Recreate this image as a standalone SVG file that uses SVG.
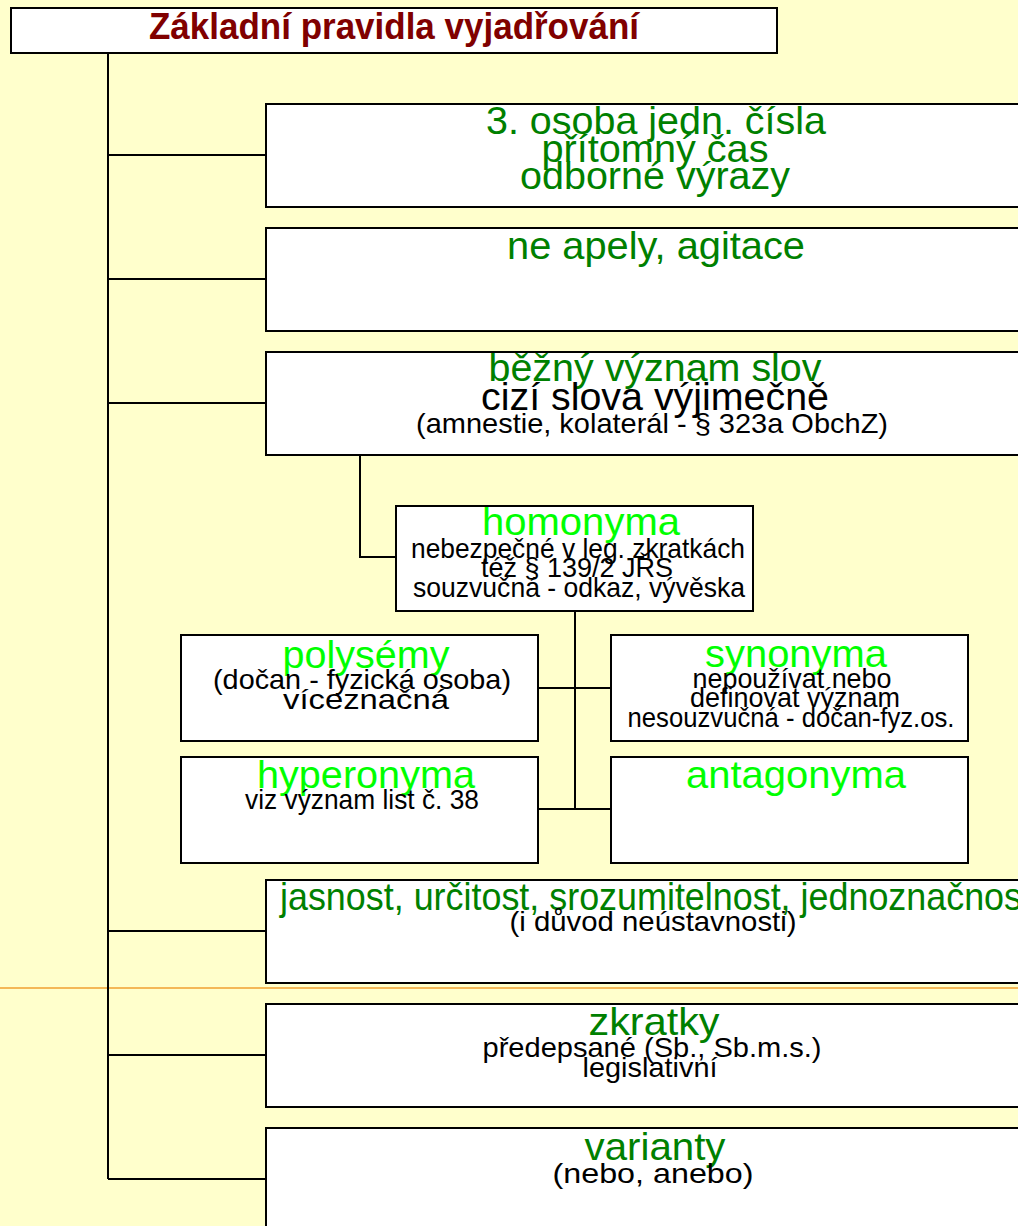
<svg xmlns="http://www.w3.org/2000/svg" width="1018" height="1226" viewBox="0 0 1018 1226">
<style>
.box{fill:#fff;stroke:#000;stroke-width:2}
.ln{stroke:#000;stroke-width:2;fill:none}
text{font-family:"Liberation Sans",Arial,sans-serif;text-anchor:middle}
.h{fill:#008000;font-size:39px}
.l{fill:#00ff00;font-size:39px}
.b{fill:#000;font-size:28px}
.bb{fill:#000;font-size:38px}
.t{fill:#800000;font-size:37px;font-weight:bold}
</style>
<rect width="1018" height="1226" fill="#ffffcc"/>
<line x1="0" y1="988" x2="1018" y2="988" stroke="#f0a030" stroke-width="1.5"/>
<g id="connectors">
<path class="ln" d="M108 53V1179M108 155H266M108 279H266M108 403H266M108 931H266M108 1055H266M108 1179H266"/>
<path class="ln" d="M360 455V557H396"/>
<path class="ln" d="M575 611V809M538 688H611M538 809H611"/>
</g>
<g id="title">
<rect class="box" x="11" y="8" width="766" height="45"/>
<text class="t" x="394" y="39" textLength="490" lengthAdjust="spacingAndGlyphs">Základní pravidla vyjadřování</text>
</g>
<g id="n1">
<rect class="box" x="266" y="104" width="780" height="103"/>
<text class="h" x="656" y="134" textLength="340" lengthAdjust="spacingAndGlyphs">3. osoba jedn. čísla</text>
<text class="h" x="655" y="162" textLength="227" lengthAdjust="spacingAndGlyphs">přítomný čas</text>
<text class="h" x="655" y="189" textLength="270" lengthAdjust="spacingAndGlyphs">odborné výrazy</text>
</g>
<g id="n2">
<rect class="box" x="266" y="228" width="780" height="103"/>
<text class="h" x="656" y="259" textLength="298" lengthAdjust="spacingAndGlyphs">ne apely, agitace</text>
</g>
<g id="n3">
<rect class="box" x="266" y="352" width="780" height="103"/>
<text class="h" x="655" y="381" textLength="333" lengthAdjust="spacingAndGlyphs">běžný význam slov</text>
<text class="bb" x="655" y="410" textLength="348" lengthAdjust="spacingAndGlyphs">cizí slova výjimečně</text>
<text class="b" x="652" y="433" textLength="472" lengthAdjust="spacingAndGlyphs">(amnestie, kolaterál - § 323a ObchZ)</text>
</g>
<g id="homonyma">
<rect class="box" x="396" y="506" width="357" height="105"/>
<text class="l" x="581" y="535" textLength="198" lengthAdjust="spacingAndGlyphs">homonyma</text>
<text class="b" x="578" y="558" textLength="334" lengthAdjust="spacingAndGlyphs">nebezpečné v leg. zkratkách</text>
<text class="b" x="577" y="577" textLength="192" lengthAdjust="spacingAndGlyphs">též § 139/2 JŘS</text>
<text class="b" x="579" y="597" textLength="332" lengthAdjust="spacingAndGlyphs">souzvučná - odkaz, vývěska</text>
</g>
<g id="polysemy">
<rect class="box" x="181" y="635" width="357" height="106"/>
<text class="l" x="366" y="668" textLength="167" lengthAdjust="spacingAndGlyphs">polysémy</text>
<text class="b" x="362" y="689" textLength="298" lengthAdjust="spacingAndGlyphs">(dočan - fyzická osoba)</text>
<text class="b" x="366" y="709" textLength="166" lengthAdjust="spacingAndGlyphs">víceznačná</text>
</g>
<g id="synonyma">
<rect class="box" x="611" y="635" width="357" height="106"/>
<text class="l" x="796" y="667" textLength="182" lengthAdjust="spacingAndGlyphs">synonyma</text>
<text class="b" x="792" y="688" textLength="199" lengthAdjust="spacingAndGlyphs">nepoužívat nebo</text>
<text class="b" x="795" y="707" textLength="210" lengthAdjust="spacingAndGlyphs">definovat význam</text>
<text class="b" x="791" y="727" textLength="327" lengthAdjust="spacingAndGlyphs">nesouzvučná - dočan-fyz.os.</text>
</g>
<g id="hyperonyma">
<rect class="box" x="181" y="757" width="357" height="106"/>
<text class="l" x="366" y="788" textLength="218" lengthAdjust="spacingAndGlyphs">hyperonyma</text>
<text class="b" x="362" y="809" textLength="234" lengthAdjust="spacingAndGlyphs">viz význam list č. 38</text>
</g>
<g id="antagonyma">
<rect class="box" x="611" y="757" width="357" height="106"/>
<text class="l" x="796" y="788" textLength="220" lengthAdjust="spacingAndGlyphs">antagonyma</text>
</g>
<g id="n4">
<rect class="box" x="266" y="880" width="780" height="103"/>
<text class="h" x="656" y="910" textLength="752" lengthAdjust="spacingAndGlyphs">jasnost, určitost, srozumitelnost, jednoznačnost</text>
<text class="b" x="653" y="931" textLength="287" lengthAdjust="spacingAndGlyphs">(i důvod neústavnosti)</text>
</g>
<g id="n5">
<rect class="box" x="266" y="1004" width="780" height="103"/>
<text class="h" x="654" y="1035" textLength="131" lengthAdjust="spacingAndGlyphs">zkratky</text>
<text class="b" x="652" y="1057" textLength="339" lengthAdjust="spacingAndGlyphs">předepsané (Sb., Sb.m.s.)</text>
<text class="b" x="650" y="1077" textLength="135" lengthAdjust="spacingAndGlyphs">legislativní</text>
</g>
<g id="n6">
<rect class="box" x="266" y="1128" width="780" height="103"/>
<text class="h" x="655" y="1160" textLength="141" lengthAdjust="spacingAndGlyphs">varianty</text>
<text class="b" x="653" y="1183" textLength="201" lengthAdjust="spacingAndGlyphs">(nebo, anebo)</text>
</g>
</svg>
